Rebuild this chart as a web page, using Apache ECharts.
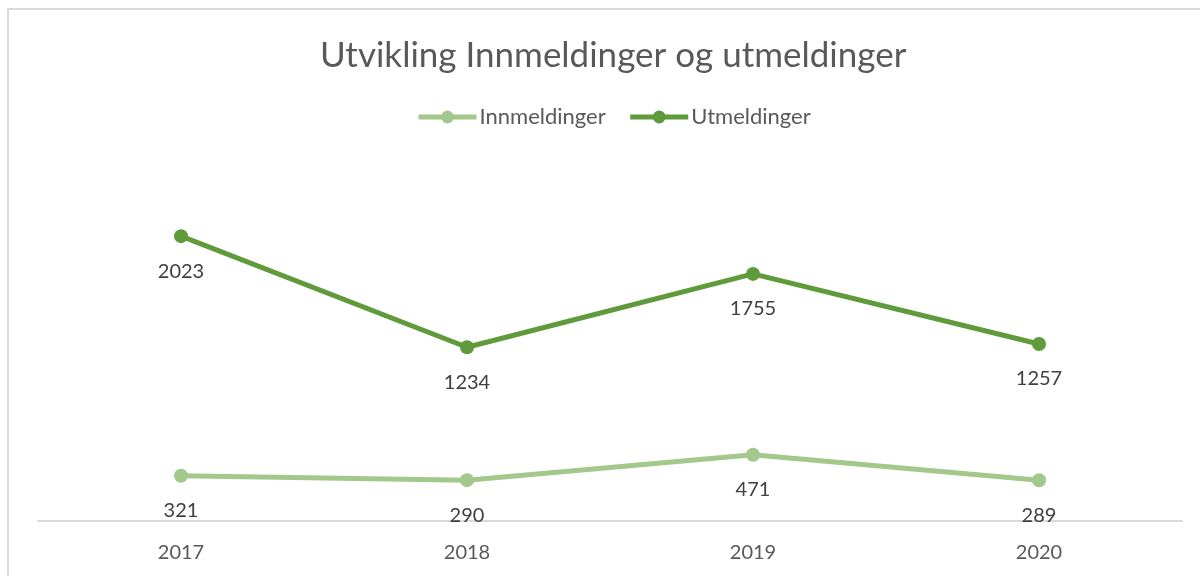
<!DOCTYPE html>
<html>
<head>
<meta charset="utf-8">
<script src="https://cdn.jsdelivr.net/npm/echarts@6/dist/echarts.min.js"></script>
<style>
  html, body { margin: 0; padding: 0; background: #fff; }
  #frame { position: absolute; left: 7px; top: 8px; width: 1200px; height: 580px; border: 2px solid #d9d9d9; box-sizing: border-box; }
  #main { position: absolute; left: 0; top: 0; width: 1200px; height: 576px; }
</style>
</head>
<body>
<div id="frame"></div>
<div id="main"></div>
<script>
let years = ['2017', '2018', '2019', '2020'];
let innmeldinger = [321, 290, 471, 289];
let utmeldinger = [2023, 1234, 1755, 1257];

(function() {
    let chart = echarts.init(document.getElementById('main'));
    let font = 'Lato, "Open Sans", sans-serif';
    let lightGreen = '#a3c88c';
    let darkGreen = '#5f9a3b';

    function lineSeries(name, data, color) {
        return {
            name: name,
            type: 'line',
            data: data,
            symbol: 'circle',
            symbolSize: 14,
            lineStyle: {width: 5, color: color},
            itemStyle: {color: color},
            label: {
                show: true,
                position: 'bottom',
                distance: 18,
                color: '#404040',
                fontSize: 20,
                fontFamily: font
            }
        };
    }

    chart.setOption({
        animation: false,
        title: {
            text: 'Utvikling Innmeldinger og utmeldinger',
            left: 315,
            top: 33,
            textStyle: {fontSize: 35, fontWeight: 'normal', color: '#595959', fontFamily: font}
        },
        legend: {
            top: 101,
            left: 411,
            itemWidth: 58,
            itemHeight: 16,
            itemGap: 22,
            lineStyle: {width: 5},
            textStyle: {fontSize: 22, color: '#595959', fontFamily: font, padding: [0, 0, 0, -2]},
            data: ['Innmeldinger', 'Utmeldinger']
        },
        grid: {left: 38, right: 18, top: 169, bottom: 55, containLabel: false},
        xAxis: {
            type: 'category',
            data: years,
            boundaryGap: true,
            axisLine: {lineStyle: {color: '#d9d9d9', width: 2}},
            axisTick: {show: false},
            axisLabel: {color: '#595959', fontSize: 20, fontFamily: font, margin: 22}
        },
        yAxis: {
            type: 'value',
            min: 0,
            max: 2500,
            show: false,
            splitLine: {show: false}
        },
        series: [
            lineSeries('Innmeldinger', innmeldinger, lightGreen),
            lineSeries('Utmeldinger', utmeldinger, darkGreen)
        ]
    });
})();
</script>
</body>
</html>
